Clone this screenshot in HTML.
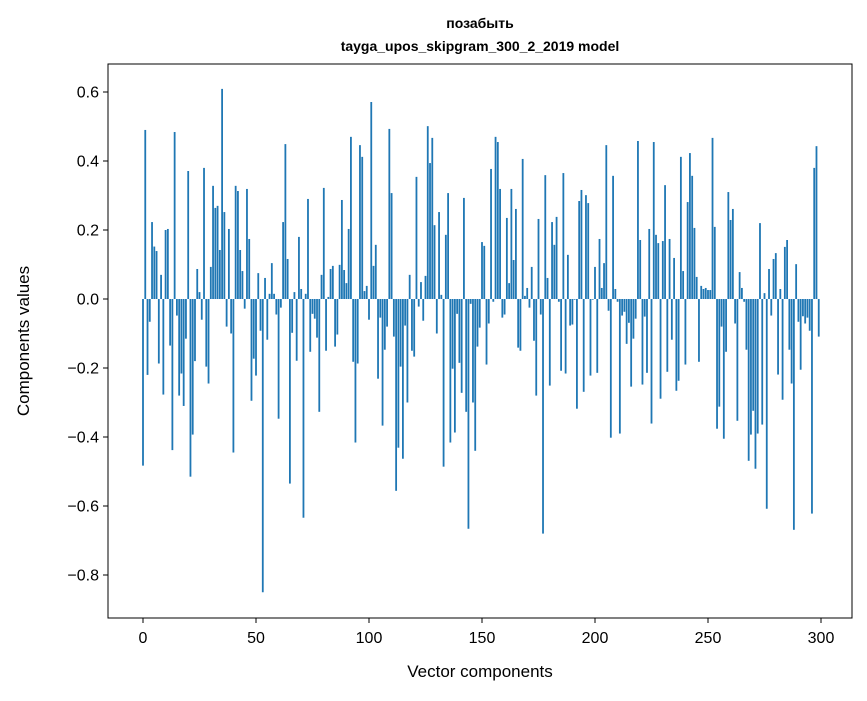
<!DOCTYPE html>
<html><head><meta charset="utf-8"><style>
html,body{margin:0;padding:0;background:#fff}
svg text{font-family:"Liberation Sans","DejaVu Sans",sans-serif}
</style></head><body>
<svg id="chart" width="867" height="696" xmlns="http://www.w3.org/2000/svg">
<rect width="867" height="696" fill="#fff"/>
<text x="480" y="28" text-anchor="middle" font-size="14" font-weight="bold">позабыть</text>
<text x="480" y="51" text-anchor="middle" font-size="14" font-weight="bold">tayga_upos_skipgram_300_2_2019 model</text>
<g id="bars"></g>
<g id="axes"></g>
<rect x="108" y="64" width="744" height="554" fill="none" stroke="#000" stroke-width="1"/>
<text x="480" y="677" text-anchor="middle" font-size="17">Vector components</text>
<text transform="translate(29,341) rotate(-90)" text-anchor="middle" font-size="17">Components values</text>
</svg>
<script>
const values = [
-0.483,0.49,-0.22,-0.066,0.223,0.152,0.139,-0.187,0.07,-0.277,
0.2,0.203,-0.135,-0.438,0.484,-0.048,-0.28,-0.216,-0.31,-0.115,
0.371,-0.515,-0.393,-0.18,0.087,0.02,-0.06,0.38,-0.196,-0.245,
0.093,0.328,0.264,0.27,0.142,0.609,0.252,-0.08,0.203,-0.1,
-0.445,0.328,0.313,0.142,0.081,-0.028,0.319,0.174,-0.295,-0.173,
-0.222,0.075,-0.092,-0.85,0.061,-0.118,0.015,0.104,0.015,-0.045,
-0.347,-0.025,0.223,0.449,0.116,-0.535,-0.098,0.02,-0.179,0.18,
0.029,-0.634,0.015,0.29,-0.153,-0.043,-0.057,-0.112,-0.327,0.07,
0.322,-0.15,0.006,0.087,0.096,-0.138,-0.103,0.099,0.287,0.084,
0.046,0.203,0.47,-0.182,-0.416,-0.187,0.446,0.412,0.023,0.038,
-0.06,0.571,0.096,0.157,-0.231,-0.054,-0.367,-0.147,-0.08,0.493,
0.307,-0.109,-0.556,-0.431,-0.196,-0.463,-0.077,-0.3,0.07,-0.15,
-0.167,0.354,-0.022,0.049,-0.063,0.067,0.501,0.394,0.467,0.214,
-0.1,0.252,0.012,-0.486,0.186,0.307,-0.416,-0.202,-0.387,-0.043,
-0.185,-0.272,0.293,-0.327,-0.666,-0.014,-0.3,-0.44,-0.138,-0.083,
0.165,0.154,-0.19,-0.071,0.377,-0.008,0.47,0.455,0.319,-0.054,
-0.045,0.235,0.046,0.319,0.113,0.261,-0.141,-0.15,0.406,0.009,
0.032,-0.025,0.093,-0.121,-0.28,0.232,-0.045,-0.68,0.359,0.061,
-0.251,0.223,0.157,0.238,-0.008,-0.208,0.365,-0.216,0.128,-0.077,
-0.074,-0.002,-0.318,0.284,0.316,-0.269,0.301,0.278,-0.222,-0.002,
0.093,-0.214,0.174,0.032,0.104,0.446,-0.034,-0.402,0.357,0.029,
-0.008,-0.39,-0.048,-0.037,-0.13,-0.069,-0.254,-0.115,-0.057,0.458,
0.171,-0.248,-0.051,-0.214,0.203,-0.361,0.455,0.186,0.162,-0.289,
0.168,0.33,-0.211,0.174,-0.118,0.119,-0.266,-0.237,0.412,0.081,
-0.19,0.281,0.423,0.357,0.206,0.064,-0.182,0.038,0.029,0.032,
0.026,0.026,0.467,0.209,-0.376,-0.312,-0.08,-0.405,-0.153,0.31,
0.229,0.261,-0.071,-0.353,0.078,0.032,-0.008,-0.147,-0.469,-0.393,
-0.324,-0.492,-0.39,0.22,-0.364,0.017,-0.608,0.087,-0.048,0.116,
0.133,-0.219,0.029,-0.292,0.151,0.171,-0.147,-0.245,-0.669,0.101,
-0.066,-0.205,-0.05,-0.071,-0.054,-0.092,-0.622,0.38,0.443,-0.109
];
const yTicks = [-0.8,-0.6,-0.4,-0.2,0.0,0.2,0.4,0.6];
const yTickLabels = ["\u22120.8","\u22120.6","\u22120.4","\u22120.2","0.0","0.2","0.4","0.6"];
const xTicks = [0,50,100,150,200,250,300];

const NS = "http://www.w3.org/2000/svg";
const xScale = v => 143 + v * 2.26;
const yScale = v => 299 - v * 345;
const bars = document.getElementById('bars');
values.forEach((v, i) => {
  const r = document.createElementNS(NS, 'rect');
  const y0 = yScale(0), y1 = yScale(v);
  r.setAttribute('x', xScale(i) - 0.9);
  r.setAttribute('width', 1.8);
  r.setAttribute('y', Math.min(y0, y1));
  r.setAttribute('height', Math.max(Math.abs(y1 - y0), 0.3));
  r.setAttribute('fill', '#1f77b4');
  
  
  bars.appendChild(r);
});
const axes = document.getElementById('axes');
yTicks.forEach((t, k) => {
  const y = yScale(t);
  const l = document.createElementNS(NS, 'line');
  l.setAttribute('x1', 103); l.setAttribute('x2', 108);
  l.setAttribute('y1', y); l.setAttribute('y2', y);
  l.setAttribute('stroke', '#000');
  
  
  axes.appendChild(l);
  const tx = document.createElementNS(NS, 'text');
  tx.setAttribute('x', 99); tx.setAttribute('y', y + 5.5);
  tx.setAttribute('text-anchor', 'end'); tx.setAttribute('font-size', '16');
  tx.textContent = yTickLabels[k];
  
  
  axes.appendChild(tx);
});
xTicks.forEach(t => {
  const x = xScale(t);
  const l = document.createElementNS(NS, 'line');
  l.setAttribute('x1', x); l.setAttribute('x2', x);
  l.setAttribute('y1', 618); l.setAttribute('y2', 623);
  l.setAttribute('stroke', '#000');
  
  
  axes.appendChild(l);
  const tx = document.createElementNS(NS, 'text');
  tx.setAttribute('x', x); tx.setAttribute('y', 643);
  tx.setAttribute('text-anchor', 'middle'); tx.setAttribute('font-size', '16');
  tx.textContent = String(t);
  
  
  axes.appendChild(tx);
});
</script>
</body></html>
